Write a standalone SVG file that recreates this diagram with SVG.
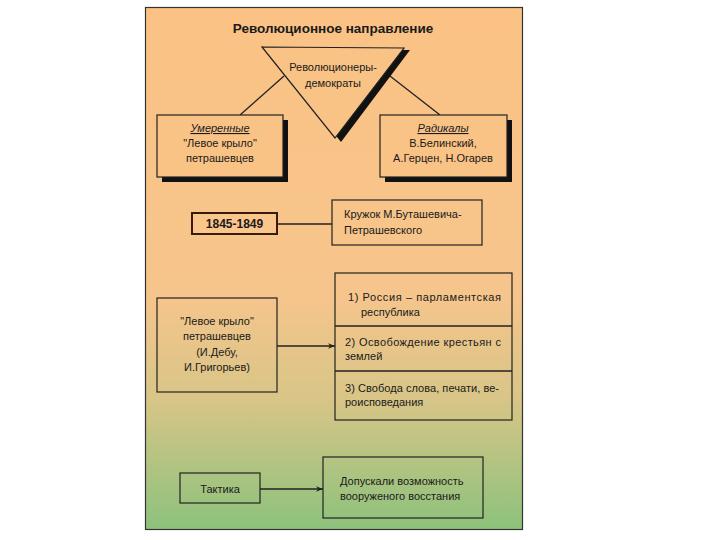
<svg xmlns="http://www.w3.org/2000/svg" width="720" height="540" viewBox="0 0 720 540">
<defs>
<linearGradient id="bg" x1="0" y1="0" x2="0" y2="1">
<stop offset="0" stop-color="#FBC284"/>
<stop offset="0.55" stop-color="#F6C58C"/>
<stop offset="0.75" stop-color="#D8C587"/>
<stop offset="1" stop-color="#8CC27C"/>
</linearGradient>
<marker id="arr" viewBox="0 0 10 10" refX="10" refY="5" markerWidth="7" markerHeight="7" orient="auto" markerUnits="userSpaceOnUse">
<path d="M0,1 L10,5 L0,9 L3,5 Z" fill="#222"/>
</marker>
<style>
text{font-family:"Liberation Sans","Arial Narrow",sans-serif;fill:#1a1a1a;font-size:11px}
.c{text-anchor:middle}
.box{fill:none;stroke:#222;stroke-width:1.2}
.sh{fill:#111}
.ln{stroke:#222;stroke-width:1.3;fill:none}
.t{font-weight:bold;font-size:13.5px}
.u{font-style:italic;text-decoration:underline}
</style>
</defs>
<rect width="720" height="540" fill="#fff"/>
<rect x="145.5" y="7.5" width="377" height="522" fill="url(#bg)" stroke="#333" stroke-width="1.2"/>
<text class="c t" x="333" y="33">Революционное направление</text>

<g id="connectors">
<line class="ln" x1="284" y1="76" x2="240" y2="115"/>
<line class="ln" x1="390" y1="76" x2="440" y2="115"/>
<line class="ln" x1="278" y1="224" x2="332" y2="224"/>
<line class="ln" x1="277" y1="346" x2="335" y2="346" marker-end="url(#arr)"/>
<line class="ln" x1="260" y1="489" x2="323" y2="489" marker-end="url(#arr)"/>
</g>

<g id="triangle">
<polygon class="sh" points="268,50 410,50 341,142"/>
<polygon points="262,47 404,48 335,138" fill="#F9C386" stroke="#222" stroke-width="1.2"/>
<text class="c" x="333" y="71">Революционеры-</text>
<text class="c" x="333" y="87">демократы</text>
</g>

<g id="moderate">
<rect class="sh" x="162" y="120" width="126" height="62"/>
<rect x="157" y="115" width="126" height="62" fill="#FAC386" stroke="#222" stroke-width="1.2"/>
<text class="c u" x="220" y="132">Умеренные</text>
<text class="c" x="220" y="147">"Левое крыло"</text>
<text class="c" x="220" y="162">петрашевцев</text>
</g>

<g id="radicals">
<rect class="sh" x="385" y="120" width="127" height="62"/>
<rect x="380" y="115" width="127" height="62" fill="#FAC386" stroke="#222" stroke-width="1.2"/>
<text class="c u" x="443" y="132">Радикалы</text>
<text class="c" x="443" y="147">В.Белинский,</text>
<text class="c" x="443" y="162">А.Герцен, Н.Огарев</text>
</g>

<g id="years">
<rect x="192" y="213" width="85" height="21" fill="#FAC68C" stroke="#3a1a0a" stroke-width="2"/>
<text class="c" x="234.5" y="228" font-weight="bold" style="font-size:12px">1845-1849</text>
</g>

<g id="circle">
<rect class="box" x="332" y="200" width="150" height="45"/>
<text x="344" y="218">Кружок  М.Буташевича-</text>
<text x="344" y="234">Петрашевского</text>
</g>

<g id="leftwing">
<rect class="box" x="157" y="298" width="120" height="94"/>
<text class="c" x="217" y="325">"Левое крыло"</text>
<text class="c" x="217" y="340">петрашевцев</text>
<text class="c" x="217" y="356">(И.Дебу,</text>
<text class="c" x="217" y="371">И.Григорьев)</text>
</g>

<g id="program">
<rect class="box" x="335" y="273" width="177" height="147"/>
<line class="ln" x1="335" y1="326" x2="512" y2="326"/>
<line class="ln" x1="335" y1="371" x2="512" y2="371"/>
<text x="348" y="301" textLength="153">1)  Россия  –  парламентская</text>
<text x="361" y="316">республика</text>
<text x="345" y="346" textLength="156">2) Освобождение крестьян с</text>
<text x="345" y="360">землей</text>
<text x="345" y="392" textLength="154">3) Свобода слова, печати, ве-</text>
<text x="345" y="406">роисповедания</text>
</g>

<g id="tactics">
<rect class="box" x="180" y="473" width="80" height="30"/>
<text class="c" x="220" y="493">Тактика</text>
</g>

<g id="uprising">
<rect class="box" x="323" y="457" width="160" height="61"/>
<text x="340" y="485">Допускали  возможность</text>
<text x="340" y="500">вооруженого восстания</text>
</g>
</svg>
